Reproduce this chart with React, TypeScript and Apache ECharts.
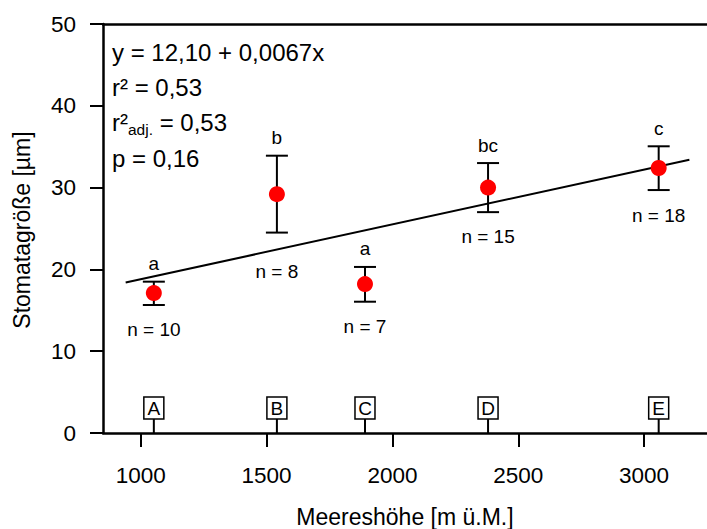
import React, { useEffect, useRef } from "react";
import * as echarts from "echarts";

const sites = ["A", "B", "C", "D", "E"];
const altitude = [1052, 1541, 1891, 2380, 3058];
const meanSize = [17.1, 29.2, 18.2, 30.0, 32.4];
const lowerSize = [15.65, 24.5, 16.05, 27.0, 29.7];
const upperSize = [18.5, 33.9, 20.3, 33.0, 35.05];
const groupLetters = ["a", "b", "a", "bc", "c"];
const sampleSizes = [10, 8, 7, 15, 18];
const nLabelLevel = [12.6, 19.7, 13.0, 24.0, 26.65];
const regressionLine = [
  [940, 18.4],
  [3180, 33.4],
];
const xTickValues = [1000, 1500, 2000, 2500, 3000];
const statsEquation = "y = 12,10 + 0,0067x";
const statsR2 = "r² = 0,53";
const statsR2adjValue = " = 0,53";
const statsP = "p = 0,16";
const xTitle = "Meereshöhe [m ü.M.]";
const yTitle = "Stomatagröße [µm]";

const FONT = "'Liberation Sans', Arial, Helvetica, sans-serif";
const BLACK = "#000";

export default function App() {
  const ref = useRef<HTMLDivElement>(null);

  useEffect(() => {
    if (!ref.current) return;
    const chart = echarts.init(ref.current, undefined, { renderer: "svg" });

    const barData = altitude.map((x, i) => [x, lowerSize[i], upperSize[i]]);
    const letterData = altitude.map((x, i) => [x, upperSize[i], i]);
    const nData = altitude.map((x, i) => [x, nLabelLevel[i], i]);
    const siteData = altitude.map((x, i) => [x, 0, i]);

    const option: any = {
      animation: false,
      grid: { left: 103, right: 0, top: 24, bottom: 96, containLabel: false },
      xAxis: [
        {
          type: "value",
          min: 850,
          max: 3250,
          position: "bottom",
          splitLine: { show: false },
          axisLine: { show: true, onZero: false, lineStyle: { color: BLACK, width: 2.5 } },
          axisTick: {
            show: true,
            inside: false,
            length: 14,
            customValues: xTickValues,
            lineStyle: { color: BLACK, width: 2 },
          },
          axisLabel: {
            show: true,
            customValues: xTickValues,
            formatter: (v: number) => String(v),
            margin: 31,
            fontSize: 22.5,
            fontFamily: FONT,
            color: BLACK,
          },
        },
        {
          type: "value",
          min: 850,
          max: 3250,
          position: "top",
          splitLine: { show: false },
          axisLine: { show: true, onZero: false, lineStyle: { color: BLACK, width: 2.5 } },
          axisTick: { show: false },
          axisLabel: { show: false },
        },
      ],
      yAxis: {
        type: "value",
        min: 0,
        max: 50,
        interval: 10,
        splitLine: { show: false },
        axisLine: { show: true, onZero: false, lineStyle: { color: BLACK, width: 2.5 } },
        axisTick: { show: true, inside: false, length: 13, lineStyle: { color: BLACK, width: 2 } },
        axisLabel: { margin: 27, fontSize: 22.5, fontFamily: FONT, color: BLACK },
      },
      series: [
        {
          type: "line",
          data: regressionLine,
          symbol: "none",
          lineStyle: { color: BLACK, width: 2 },
          z: 2,
        },
        {
          type: "custom",
          data: barData,
          z: 3,
          renderItem: (_p: any, api: any) => {
            const x = api.value(0);
            const lo = api.coord([x, api.value(1)]);
            const hi = api.coord([x, api.value(2)]);
            const w = 11;
            const st = { stroke: BLACK, lineWidth: 2 };
            return {
              type: "group",
              children: [
                { type: "line", shape: { x1: lo[0], y1: lo[1], x2: hi[0], y2: hi[1] }, style: st },
                { type: "line", shape: { x1: lo[0] - w, y1: lo[1], x2: lo[0] + w, y2: lo[1] }, style: st },
                { type: "line", shape: { x1: hi[0] - w, y1: hi[1], x2: hi[0] + w, y2: hi[1] }, style: st },
              ],
            };
          },
        },
        {
          type: "scatter",
          data: altitude.map((x, i) => [x, meanSize[i]]),
          symbol: "circle",
          symbolSize: 16,
          itemStyle: { color: "#ff0000", opacity: 1 },
          z: 5,
        },
        {
          type: "custom",
          data: letterData,
          z: 4,
          renderItem: (_p: any, api: any) => {
            const p = api.coord([api.value(0), api.value(1)]);
            const i = api.value(2);
            return {
              type: "text",
              x: p[0],
              y: p[1] - 18,
              style: {
                text: groupLetters[i],
                fontSize: 19,
                fontFamily: FONT,
                fill: BLACK,
                align: "center",
                verticalAlign: "middle",
              },
            };
          },
        },
        {
          type: "custom",
          data: nData,
          z: 4,
          renderItem: (_p: any, api: any) => {
            const p = api.coord([api.value(0), api.value(1)]);
            const i = api.value(2);
            return {
              type: "text",
              x: p[0],
              y: p[1],
              style: {
                text: "n = " + sampleSizes[i],
                fontSize: 19,
                fontFamily: FONT,
                fill: BLACK,
                align: "center",
                verticalAlign: "middle",
              },
            };
          },
        },
        {
          type: "custom",
          data: siteData,
          z: 4,
          renderItem: (_p: any, api: any) => {
            const p = api.coord([api.value(0), api.value(1)]);
            const i = api.value(2);
            return {
              type: "group",
              children: [
                {
                  type: "rect",
                  shape: { x: p[0] - 10, y: p[1] - 36, width: 20, height: 22 },
                  style: { fill: "#fff", stroke: BLACK, lineWidth: 1.5 },
                },
                {
                  type: "text",
                  x: p[0],
                  y: p[1] - 24.5,
                  style: {
                    text: sites[i],
                    fontSize: 19,
                    fontFamily: FONT,
                    fill: BLACK,
                    align: "center",
                    verticalAlign: "middle",
                  },
                },
                {
                  type: "line",
                  shape: { x1: p[0], y1: p[1] - 14, x2: p[0], y2: p[1] },
                  style: { stroke: BLACK, lineWidth: 2 },
                },
              ],
            };
          },
        },
      ],
      graphic: [
        {
          type: "text",
          x: 112,
          y: 52,
          style: { text: statsEquation, fontSize: 24, fontFamily: FONT, fill: BLACK, align: "left", verticalAlign: "middle" },
        },
        {
          type: "text",
          x: 112,
          y: 87,
          style: { text: statsR2, fontSize: 24, fontFamily: FONT, fill: BLACK, align: "left", verticalAlign: "middle" },
        },
        {
          type: "text",
          x: 112,
          y: 122,
          style: {
            text: "{m|r²}{s|adj.}{m|" + statsR2adjValue + "}",
            align: "left",
            verticalAlign: "middle",
            fill: BLACK,
            fontFamily: FONT,
            rich: {
              m: { fontSize: 24, fontFamily: FONT, fill: BLACK, lineHeight: 30, verticalAlign: "middle" },
              s: { fontSize: 15.5, fontFamily: FONT, fill: BLACK, lineHeight: 14, verticalAlign: "bottom" },
            },
          },
        },
        {
          type: "text",
          x: 112,
          y: 158,
          style: { text: statsP, fontSize: 24, fontFamily: FONT, fill: BLACK, align: "left", verticalAlign: "middle" },
        },
        {
          type: "text",
          x: 405,
          y: 517,
          style: { text: xTitle, fontSize: 23, fontFamily: FONT, fill: BLACK, align: "center", verticalAlign: "middle" },
        },
        {
          type: "text",
          x: 22,
          y: 230,
          rotation: Math.PI / 2,
          style: { text: yTitle, fontSize: 23, fontFamily: FONT, fill: BLACK, align: "center", verticalAlign: "middle" },
        },
      ],
    };

    chart.setOption(option);
    return () => chart.dispose();
  }, []);

  return (
    <div
      ref={ref}
      style={{ position: "fixed", left: 0, top: 0, width: 707, height: 529, background: "#fff" }}
    />
  );
}
